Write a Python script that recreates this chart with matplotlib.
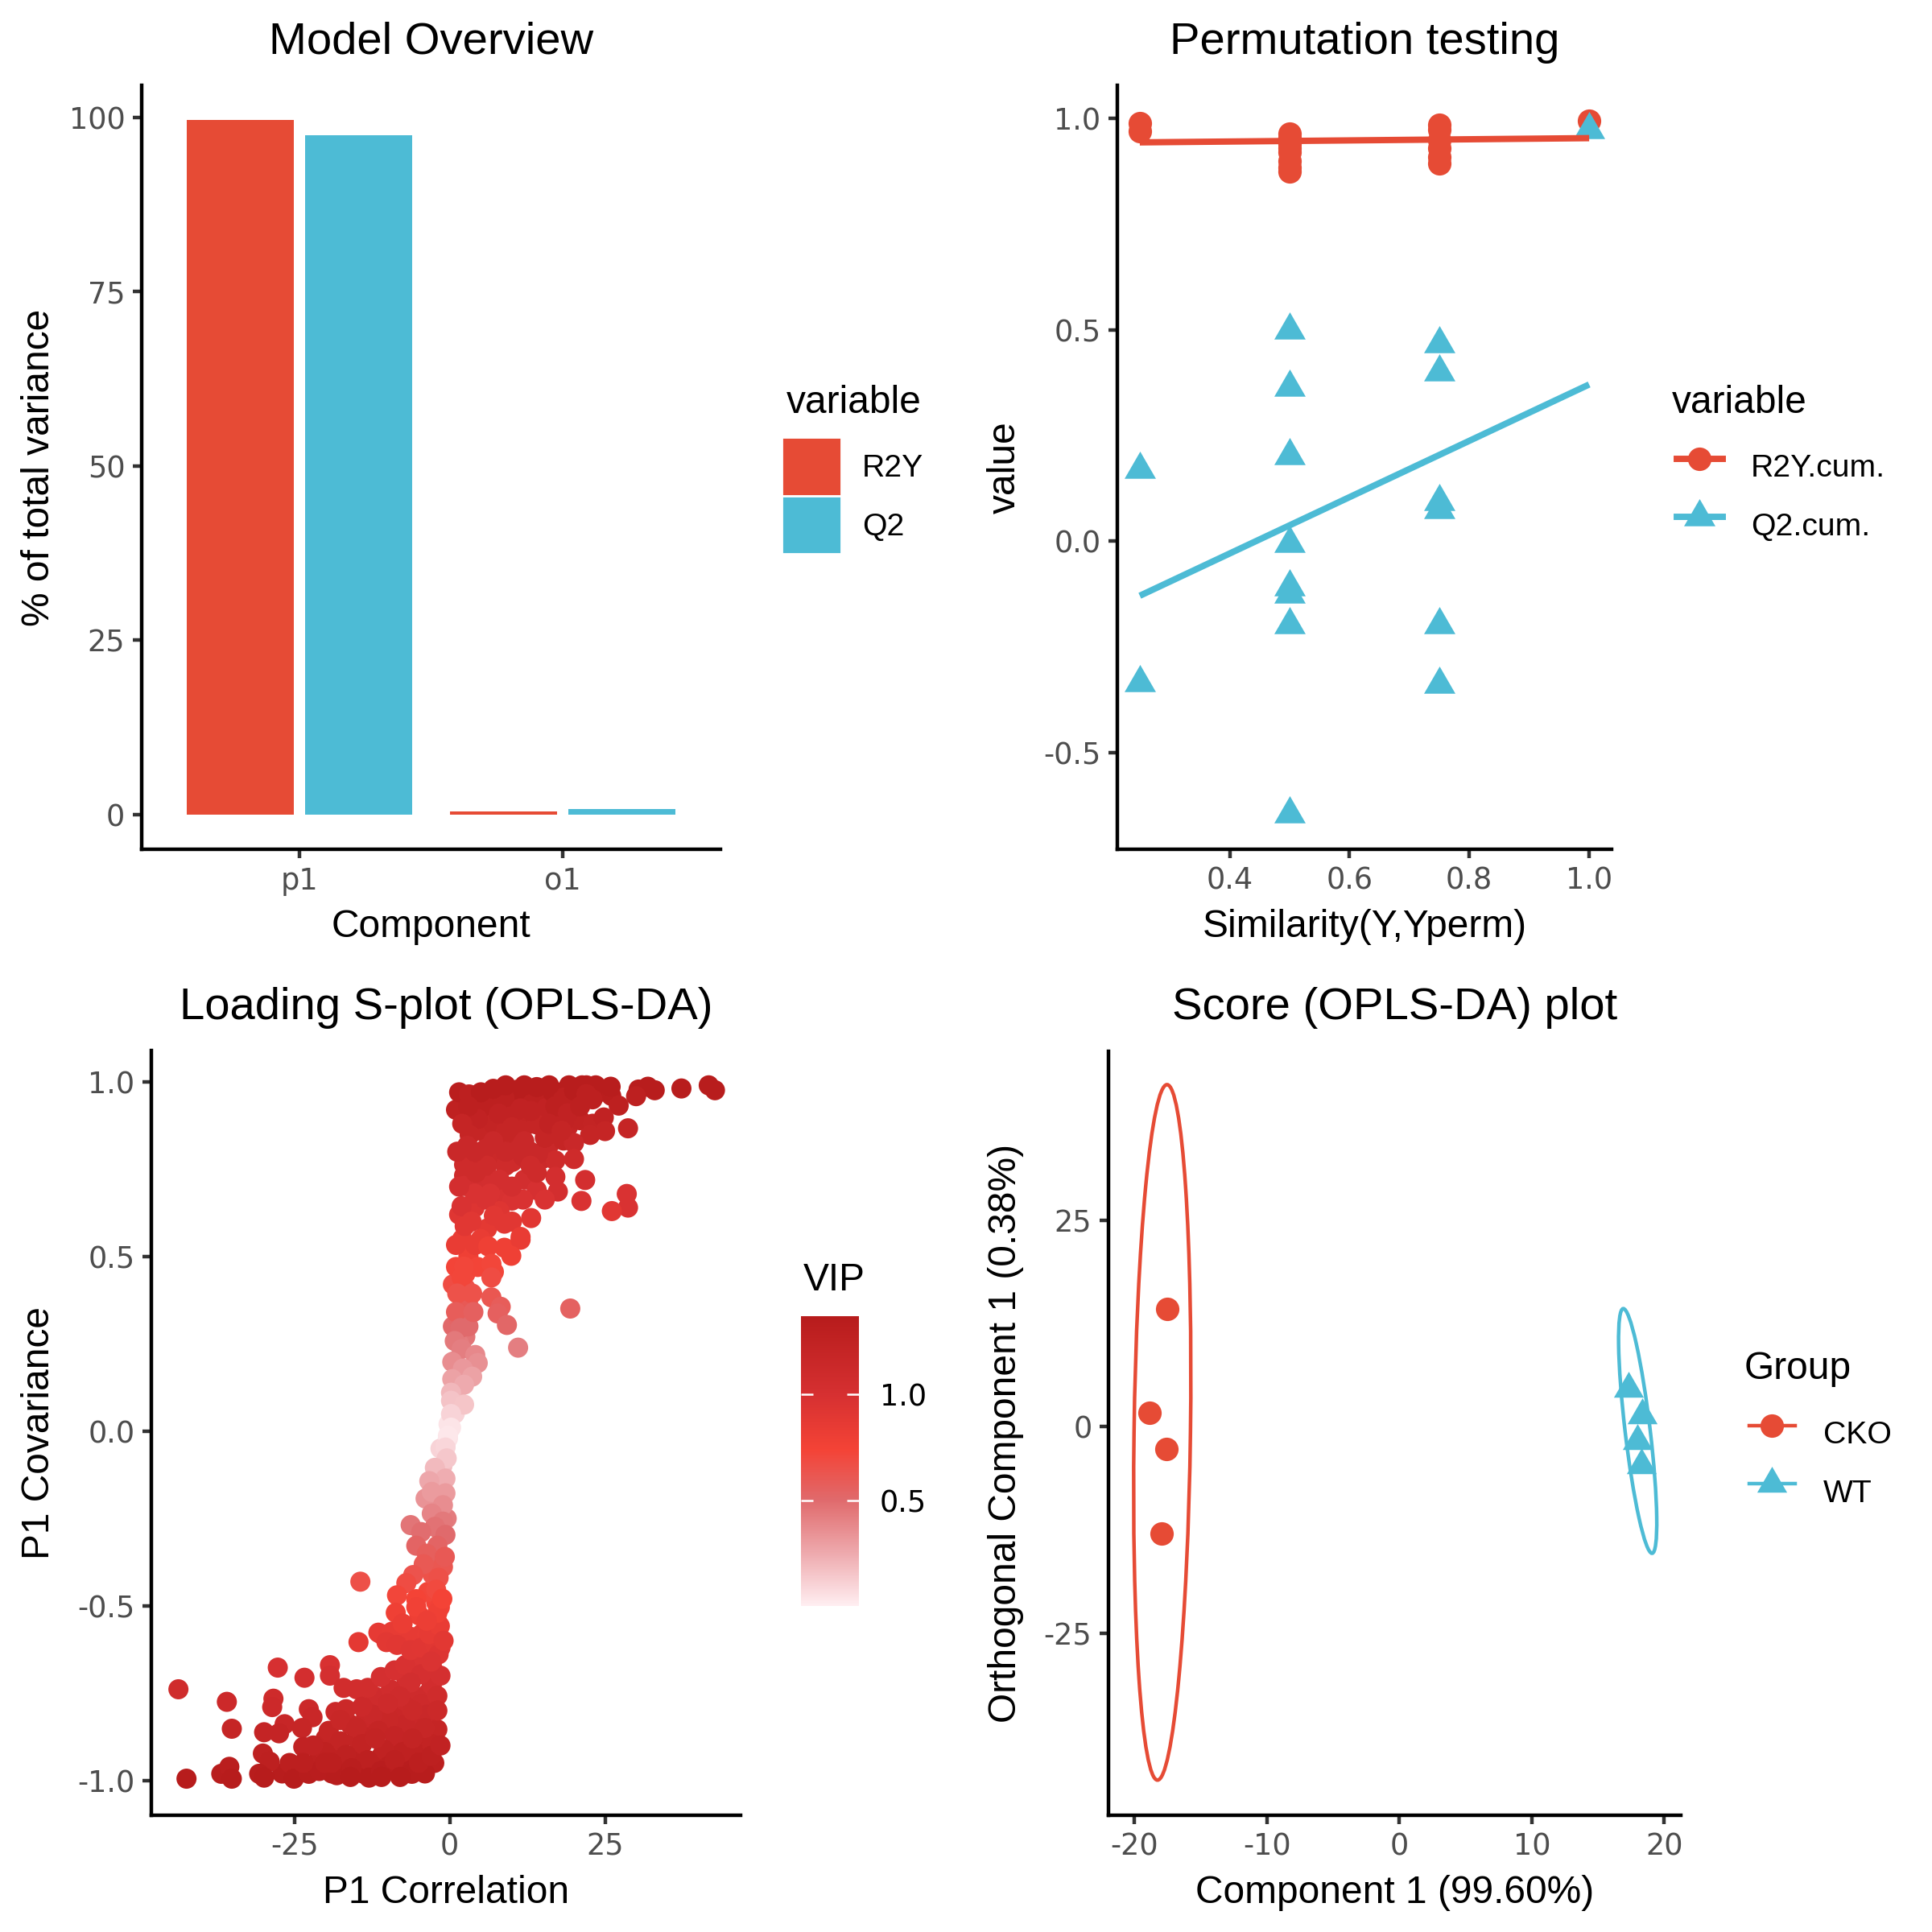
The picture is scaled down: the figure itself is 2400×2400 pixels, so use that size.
import numpy as np
import matplotlib
matplotlib.use("Agg")
import matplotlib.pyplot as plt
from matplotlib.path import Path
from matplotlib.patches import Ellipse, Patch
from matplotlib.lines import Line2D
from matplotlib.colors import LinearSegmentedColormap, Normalize

plt.rcParams['font.family'] = ['Liberation Sans', 'DejaVu Sans']
plt.rcParams['axes.unicode_minus'] = False

RED = "#E64B35"
BLUE = "#4DBBD5"
TICK_GREY = "#4D4D4D"
TICK_FONT = "DejaVu Sans"

# ---- Model overview ----
components = ["p1", "o1"]
r2y_pct = [99.6, 0.4]
q2_pct = [97.4, 0.8]

# ---- Permutation testing ----
perm_sim_r2y = [0.25, 0.25,
                0.5, 0.5, 0.5, 0.5, 0.5, 0.5, 0.5, 0.5,
                0.75, 0.75, 0.75, 0.75, 0.75, 0.75,
                1.0]
perm_r2y = [0.99, 0.97,
            0.965, 0.955, 0.94, 0.93, 0.92, 0.90, 0.885, 0.875,
            0.985, 0.975, 0.95, 0.93, 0.91, 0.895,
            0.996]
perm_sim_q2 = perm_sim_r2y
perm_q2 = [0.17, -0.335,
           0.499, 0.365, 0.203, -0.005, -0.107, -0.125, -0.198, -0.645,
           0.467, 0.40, 0.094, 0.075, -0.198, -0.338,
           0.974]
fit_x = [0.25, 1.0]
r2y_fit = [0.944, 0.954]
q2_fit = [-0.129, 0.371]

# ---- Loading S-plot ----
p1_corr = [
    # upper cluster
    3.1, 4.9, 37.3, 41.7, 42.7, 31.9, 33.0, 30.4, 30.0, 25.9, 27.2, 28.7, 24.8, 25.0, 22.6,
    21.3, 23.5, 19.2, 18.3, 20.0, 17.0, 20.0, 21.8, 21.2, 28.5, 28.7, 26.1, 17.4, 15.3, 17.0,
    14.2, 15.3, 18.3, 15.3, 13.1, 11.0, 8.8, 16.6, 18.3, 11.4, 7.9, 4.5, 3.2, 2.8, 2.3,
    2.3, 2.3, 1.9, 2.4, 1.0, 5.8, 6.7, 5.8, 8.8, 11.4, 10.1, 11.8, 14.0, 11.8, 13.1,
    11.4, 8.8, 7.1, 9.7, 14.0, 13.1, 8.8,
    5, 7, 9, 12, 14, 16, 20, 22, 17, 19, 21, 23, 10, 12, 6, 8, 4, 10, 3, 2, 4, 7, 9, 13,
    16, 18, 3.5, 5, 1.5, 1.2, 6.5, 4.2,
    # middle, upper half
    4.1, 6.2, 11.4, 9.9, 2.3, 6.7, 7.1, 1.9, 6.7, 1.2, 3.6, 6.7, 8.2, 1.0, 3.8, 7.7, 9.2,
    19.4, 1.7, 0.8, 1.9, 4.1, 11.0, 0.4, 4.5, 2.1, 0.4, 3.6, 2.3, 0.2, 0.2, 2.3, 0.2, 0.2,
    -0.3, -0.7,
    # middle, lower half
    -0.3, -0.7, -0.5, -2.4, -0.7, -3.3, -0.7, -3.9, -2.9, -1.1, -2.9, -6.3, -1.1, -2.4,
    -4.6, -0.7, -5.4, -2.0, -3.7, -1.1, -4.2, -5.9, -1.8, -7.0, -14.4, -2.2, -8.5, -5.4,
    -1.6, -8.7, -4.9, -2.0, -11.1, -8.8, -6.3, -3.7, -14.7,
    # lower cluster
    -43.7, -42.4, -35.9, -35.1, -36.8, -35.5, -35.1, -27.7, -28.4, -28.6, -23.4, -19.3,
    -19.3, -11.5, -9.3, -29.9, -30.1, -29.0, -30.7, -29.9, -26.6, -27.5, -22.7, -22.1,
    -23.8, -23.6, -25.8, -25.1, -22.7, -21.0, -19.5, -18.4, -16.7, -17.1, -15.0, -13.2,
    -11.1, -8.9, -7.2, -10.2, -8.5, -6.3, -4.6, -2.4, -1.8, -2.9, -2.9, -4.6, -6.3, -4.6,
    -3.7, -2.0, -4.6, -7.2, -9.8, -12.4, -14.1, -17.6, -15.0, -11.5, -8.9, -5.4, -4.6,
    -7.6, -10.6, -14.1, -17.6, -20.1, -16.7, -13.2, -9.8, -6.1, -13.0, -18.2, -15.8,
    -20.1, -23.6, -11.1, -8.9, -2.9, -2.0, -3.3, -1.6, -2.0, -5.4, -7.6, -3.7,
    -5, -3, -8, -11, -16, -4, -6, -8, -10, -12, -6, -2, -1.5, -3, -1, -19, -22, -1.2,
    -0.8, -1.5,
]
p1_cov = [
    0.964, 0.944, 0.981, 0.990, 0.976, 0.986, 0.976, 0.978, 0.959, 0.986, 0.932, 0.867,
    0.898, 0.859, 0.848, 0.990, 0.990, 0.990, 0.832, 0.825, 0.775, 0.779, 0.719, 0.659,
    0.679, 0.640, 0.630, 0.686, 0.663, 0.728, 0.794, 0.840, 0.886, 0.924, 0.963, 0.978,
    0.955, 0.970, 0.955, 0.924, 0.909, 0.894, 0.848, 0.817, 0.763, 0.732, 0.702, 0.644,
    0.587, 0.533, 0.809, 0.717, 0.663, 0.848, 0.863, 0.771, 0.786, 0.740, 0.663, 0.610,
    0.556, 0.594, 0.617, 0.901, 0.878, 0.917, 0.525,
    0.97, 0.98, 0.99, 0.99, 0.985, 0.99, 0.975, 0.965, 0.93, 0.91, 0.93, 0.95, 0.87, 0.83,
    0.76, 0.72, 0.68, 0.70, 0.93, 0.88, 0.80, 0.83, 0.80, 0.76, 0.88, 0.86, 0.60, 0.55,
    0.70, 0.80, 0.68, 0.74,
    0.533, 0.529, 0.548, 0.502, 0.471, 0.479, 0.456, 0.440, 0.440, 0.394, 0.394, 0.383,
    0.356, 0.341, 0.341, 0.337, 0.304, 0.351, 0.295, 0.258, 0.235, 0.218, 0.239, 0.198,
    0.195, 0.179, 0.149, 0.156, 0.133, 0.110, 0.087, 0.076, 0.049, 0.010, -0.021, -0.044,
    -0.013, -0.047, -0.078, -0.105, -0.136, -0.143, -0.178, -0.193, -0.174, -0.212, -0.236,
    -0.269, -0.259, -0.274, -0.289, -0.297, -0.328, -0.328, -0.351, -0.389, -0.381, -0.412,
    -0.420, -0.435, -0.431, -0.454, -0.470, -0.481, -0.504, -0.520, -0.528, -0.547, -0.581,
    -0.577, -0.589, -0.581, -0.604,
    -0.739, -0.995, -0.775, -0.852, -0.981, -0.961, -0.995, -0.677, -0.766, -0.790, -0.706,
    -0.670, -0.700, -0.577, -0.574, -0.862, -0.923, -0.946, -0.981, -0.992, -0.839, -0.865,
    -0.796, -0.819, -0.850, -0.904, -0.950, -0.995, -0.981, -0.973, -0.858, -0.804, -0.796,
    -0.735, -0.739, -0.735, -0.704, -0.685, -0.670, -0.604, -0.612, -0.627, -0.620, -0.612,
    -0.639, -0.670, -0.727, -0.696, -0.720, -0.781, -0.812, -0.854, -0.865, -0.842, -0.827,
    -0.812, -0.789, -0.827, -0.850, -0.858, -0.873, -0.896, -0.919, -0.919, -0.912, -0.896,
    -0.888, -0.919, -0.927, -0.942, -0.958, -0.981, -0.992, -0.985, -0.965, -0.950, -0.950,
    -0.973, -0.942, -0.896, -0.758, -0.581, -0.558, -0.520, -0.504, -0.551, -0.543,
    -0.95, -0.93, -0.99, -0.99, -0.99, -0.85, -0.80, -0.76, -0.78, -0.88, -0.88, -0.80,
    -0.70, -0.66, -0.60, -0.95, -0.90, -0.48, -0.36, -0.90,
]
vip = [
    1.30, 1.30, 1.35, 1.35, 1.35, 1.35, 1.35, 1.35, 1.30, 1.35, 1.30, 1.20, 1.25, 1.20, 1.20,
    1.35, 1.35, 1.35, 1.20, 1.15, 1.10, 1.10, 1.03, 0.97, 0.97, 0.97, 0.90, 1.03, 0.97, 1.03,
    1.15, 1.20, 1.25, 1.25, 1.30, 1.35, 1.30, 1.35, 1.30, 1.25, 1.25, 1.25, 1.20, 1.15, 1.10,
    1.10, 1.03, 0.97, 0.90, 0.84, 1.15, 1.03, 0.97, 1.20, 1.20, 1.10, 1.15, 1.10, 0.97, 0.90,
    0.84, 0.90, 0.90, 1.25, 1.20, 1.25, 0.78,
    1.35, 1.35, 1.35, 1.35, 1.35, 1.35, 1.35, 1.30, 1.30, 1.25, 1.30, 1.30, 1.20, 1.15, 1.10,
    1.03, 0.97, 1.03, 1.30, 1.20, 1.15, 1.15, 1.15, 1.10, 1.25, 1.20, 0.90, 0.84, 1.03, 1.15,
    0.97, 1.10,
    0.84, 0.78, 0.84, 0.78, 0.72, 0.72, 0.72, 0.72, 0.68, 0.65, 0.65, 0.62, 0.58, 0.58, 0.56,
    0.56, 0.52, 0.55, 0.50, 0.44, 0.42, 0.38, 0.42, 0.36, 0.35, 0.32, 0.28, 0.28, 0.25, 0.20,
    0.16, 0.15, 0.10, 0.04, 0.04, 0.08,
    0.03, 0.09, 0.14, 0.19, 0.24, 0.26, 0.31, 0.34, 0.31, 0.36, 0.40, 0.46, 0.44, 0.47, 0.49,
    0.50, 0.54, 0.54, 0.57, 0.62, 0.61, 0.64, 0.66, 0.68, 0.66, 0.70, 0.72, 0.74, 0.76, 0.78,
    0.79, 0.81, 0.86, 0.85, 0.86, 0.85, 0.88,
    1.08, 1.36, 1.12, 1.20, 1.35, 1.33, 1.36, 1.00, 1.10, 1.12, 1.03, 0.98, 1.02, 0.86, 0.85,
    1.21, 1.28, 1.30, 1.35, 1.36, 1.18, 1.21, 1.13, 1.16, 1.19, 1.25, 1.31, 1.36, 1.35, 1.34,
    1.20, 1.14, 1.13, 1.06, 1.06, 1.06, 1.02, 1.00, 0.98, 0.89, 0.90, 0.92, 0.91, 0.90, 0.94,
    0.98, 1.05, 1.01, 1.04, 1.11, 1.15, 1.20, 1.21, 1.18, 1.17, 1.15, 1.12, 1.17, 1.19, 1.20,
    1.22, 1.24, 1.27, 1.27, 1.26, 1.24, 1.23, 1.27, 1.28, 1.30, 1.32, 1.35, 1.36, 1.35, 1.33,
    1.31, 1.31, 1.34, 1.30, 1.24, 1.08, 0.86, 0.83, 0.78, 0.76, 0.82, 0.81,
    1.31, 1.29, 1.36, 1.36, 1.36, 1.19, 1.13, 1.09, 1.11, 1.23, 1.23, 1.13, 1.02, 0.96, 0.89,
    1.31, 1.25, 0.74, 0.60, 1.25,
]
# densely packed points inside the two clusters and along the S
dense_corr = [
    2.5, 4, 6, 8, 10, 12, 14, 16, 18, 20, 22, 24, 26, 3, 5, 7, 9, 11, 13, 15, 17, 19, 21, 23,
    3, 5, 7, 9, 11, 13, 15, 16, 3.5, 5.5, 8, 10, 12, 14, 2, 3, 4, 6, 8, 10, 2.5, 3, 1.5, 1,
    1.5,
    -2.5, -4, -6, -7, -9.5, -12, -14, -15, -17, -19, -21, -3, -5, -7, -9, -11, -13, -15, -16,
    -18, -20, -3.5, -5.5, -7, -9, -11, -12, -13.5, -2.5, -4, -5.5, -7, -9.5, -1.5, -3, -4.5,
    -6, -2.2, -3.5, -1.5, -2.8, -17, -24.5, -27, -1.8, -1.2, -0.5, -1.5, -2,
    0.5, 1.5, 2.5, 0.8, 1.2, -0.2, -1.5, -1.2, -2, 0.7, 1.5, 3, 0.5, 2.5, 4.5, 1,
]
dense_cov = [
    0.95, 0.92, 0.93, 0.94, 0.95, 0.94, 0.95, 0.94, 0.97, 0.95, 0.99, 0.97, 0.96, 0.90, 0.86,
    0.88, 0.86, 0.90, 0.88, 0.90, 0.85, 0.87, 0.89, 0.88, 0.78, 0.78, 0.79, 0.76, 0.82, 0.80,
    0.78, 0.82, 0.71, 0.72, 0.68, 0.66, 0.72, 0.69, 0.55, 0.50, 0.64, 0.58, 0.63, 0.60, 0.41,
    0.36, 0.62, 0.92, 0.97,
    -0.95, -0.98, -0.94, -0.97, -0.97, -0.96, -0.98, -0.93, -0.96, -0.98, -0.93, -0.88, -0.83,
    -0.90, -0.90, -0.93, -0.87, -0.88, -0.84, -0.91, -0.88, -0.75, -0.76, -0.79, -0.82, -0.80,
    -0.76, -0.82, -0.69, -0.64, -0.66, -0.71, -0.74, -0.62, -0.57, -0.58, -0.60, -0.49, -0.46,
    -0.38, -0.41, -0.97, -0.97, -0.98, -0.28, -0.30, -0.25, -0.15, -0.20,
    0.30, 0.32, 0.27, 0.05, 0.12, 0.02, -0.05, -0.10, -0.12, 0.20, 0.25, 0.30, 0.42, 0.45,
    0.47, 0.47,
]
dense_vip = [
    1.30, 1.25, 1.30, 1.30, 1.30, 1.30, 1.30, 1.30, 1.35, 1.30, 1.35, 1.35, 1.33, 1.25, 1.20,
    1.23, 1.20, 1.25, 1.23, 1.25, 1.20, 1.22, 1.24, 1.23, 1.12, 1.12, 1.13, 1.10, 1.15, 1.14,
    1.12, 1.15, 1.03, 1.04, 0.99, 0.97, 1.04, 1.00, 0.84, 0.78, 0.94, 0.88, 0.93, 0.90, 0.66,
    0.60, 0.92, 1.27, 1.33,
    1.31, 1.35, 1.30, 1.34, 1.34, 1.33, 1.35, 1.29, 1.33, 1.35, 1.29, 1.23, 1.16, 1.25, 1.25,
    1.29, 1.22, 1.23, 1.18, 1.26, 1.23, 1.08, 1.09, 1.12, 1.16, 1.13, 1.09, 1.16, 1.00, 0.94,
    0.96, 1.03, 1.07, 0.91, 0.85, 0.86, 0.88, 0.75, 0.72, 0.61, 0.65, 1.34, 1.34, 1.35, 0.48,
    0.50, 0.43, 0.28, 0.35,
    0.51, 0.53, 0.46, 0.10, 0.22, 0.04, 0.10, 0.18, 0.22, 0.36, 0.43, 0.50, 0.68, 0.71, 0.73,
    0.73,
]
vip_limits = [0.0, 1.37]
vip_ticks = [0.5, 1.0]

# ---- Score plot ----
cko_c1 = [-17.51, -18.85, -17.59, -17.95]
cko_o1 = [14.21, 1.64, -2.74, -12.98]
wt_c1 = [17.33, 18.32, 18.00, 18.28]
wt_o1 = [4.64, 1.38, -1.69, -4.63]
# ellipse: centre x, centre y, width, height, angle (deg)
cko_ellipse = [-17.9, -0.69, 4.26, 84.2, -0.49]
wt_ellipse = [18.0, -0.52, 1.9, 29.7, 4.2]

tri = Path([(0, 1.0), (-0.866, -0.5), (0.866, -0.5), (0, 1.0)],
           [Path.MOVETO, Path.LINETO, Path.LINETO, Path.CLOSEPOLY])

W = 2400.0
TITLE_FS = 13.5
LAB_FS = 11.5
TICK_FS = 8.8
LEG_FS = 9.4


def px_axes(left, top, right, bottom):
    return fig.add_axes([left / W, 1 - bottom / W, (right - left) / W, (bottom - top) / W])


def style(ax):
    for s in ["top", "right"]:
        ax.spines[s].set_visible(False)
    for s in ["left", "bottom"]:
        ax.spines[s].set_linewidth(1.07)
        ax.spines[s].set_color("black")
    ax.tick_params(length=2.75, width=1.07, color="#333333", pad=2.2,
                   labelsize=TICK_FS, labelcolor=TICK_GREY, labelfontfamily=TICK_FONT)


def legend_kw(x, y, hl, tp):
    return dict(loc="upper left", bbox_to_anchor=(x / W, 1 - y / W), frameon=False,
                borderpad=0, borderaxespad=0, fontsize=LEG_FS, handlelength=hl,
                handleheight=2.2, labelspacing=0.18, handletextpad=tp, numpoints=1)


fig = plt.figure(figsize=(8, 8), dpi=300)

# Model overview
ax1 = px_axes(176, 106, 895, 1055)
style(ax1)
pos = np.arange(1, len(components) + 1)
ax1.bar(pos - 0.225, r2y_pct, width=0.405, color=RED)
ax1.bar(pos + 0.225, q2_pct, width=0.405, color=BLUE)
ax1.set_xlim(0.4, 2.6)
ax1.set_ylim(-4.98, 104.58)
ax1.set_xticks(pos)
ax1.set_xticklabels(components)
ax1.set_yticks([0, 25, 50, 75, 100])
ax1.set_title("Model Overview", fontsize=TITLE_FS, pad=9.4)
ax1.set_xlabel("Component", fontsize=LAB_FS, labelpad=4)
ax1.set_ylabel("% of total variance", fontsize=LAB_FS, labelpad=3.5)
fig.text(977 / W, 1 - 513 / W, "variable", fontsize=LAB_FS, va="baseline", ha="left")
fig.legend(handles=[Patch(color=RED, label="R2Y"), Patch(color=BLUE, label="Q2")],
           **legend_kw(975, 547, 1.7, 0.75))

# Permutation testing
ax2 = px_axes(1388, 106, 2002, 1055)
style(ax2)
ax2.plot(perm_sim_r2y, perm_r2y, "o", color=RED, ms=7, mew=0)
ax2.plot(perm_sim_q2, perm_q2, marker=tri, ls="none", color=BLUE, ms=10.8, mew=0)
ax2.plot(fit_x, r2y_fit, color=RED, lw=1.9, solid_capstyle="butt")
ax2.plot(fit_x, q2_fit, color=BLUE, lw=1.9, solid_capstyle="butt")
ax2.set_xlim(0.2125, 1.0375)
ax2.set_ylim(-0.729, 1.079)
ax2.set_xticks([0.4, 0.6, 0.8, 1.0])
ax2.set_yticks([-0.5, 0.0, 0.5, 1.0])
ax2.xaxis.set_major_formatter("{x:.1f}")
ax2.yaxis.set_major_formatter("{x:.1f}")
ax2.set_title("Permutation testing", fontsize=TITLE_FS, pad=9.4)
ax2.set_xlabel("Similarity(Y,Yperm)", fontsize=LAB_FS, labelpad=4)
ax2.set_ylabel("value", fontsize=LAB_FS, labelpad=6)
fig.text(2077 / W, 1 - 513 / W, "variable", fontsize=LAB_FS, va="baseline", ha="left")
fig.legend(handles=[Line2D([], [], color=RED, lw=1.9, marker="o", ms=7, mew=0, label="R2Y.cum."),
                    Line2D([], [], color=BLUE, lw=1.9, marker=tri, ms=10.8, mew=0, label="Q2.cum.")],
           **legend_kw(2083, 547, 1.45, 0.9))

# Loading S-plot
cmap = LinearSegmentedColormap.from_list(
    "vip", [(0.0, "#FFEEF1"), (0.18, "#EEAAAE"), (0.365, "#E06A6C"),
            (0.54, "#F44336"), (0.73, "#D63031"), (1.0, "#B71C1C")])
norm = Normalize(vmin=vip_limits[0], vmax=vip_limits[1])
ax3 = px_axes(188, 1305.5, 920, 2254.5)
style(ax3)
ax3.scatter(dense_corr, dense_cov, c=dense_vip, cmap=cmap, norm=norm, s=36, linewidths=0)
sc = ax3.scatter(p1_corr, p1_cov, c=vip, cmap=cmap, norm=norm, s=36, linewidths=0)
ax3.set_xlim(-48.06, 46.83)
ax3.set_ylim(-1.0986, 1.0885)
ax3.set_xticks([-25, 0, 25])
ax3.set_yticks([-1.0, -0.5, 0.0, 0.5, 1.0])
ax3.yaxis.set_major_formatter("{x:.1f}")
ax3.set_title("Loading S-plot (OPLS-DA)", fontsize=TITLE_FS, pad=9.4)
ax3.set_xlabel("P1 Correlation", fontsize=LAB_FS, labelpad=4)
ax3.set_ylabel("P1 Covariance", fontsize=LAB_FS, labelpad=6)

cax = px_axes(995, 1635, 1067, 1995)
cb = fig.colorbar(sc, cax=cax)
cb.outline.set_visible(False)
cb.set_ticks(vip_ticks)
cb.ax.yaxis.set_major_formatter("{x:.1f}")
cb.ax.minorticks_off()
cb.ax.yaxis.set_ticks_position("both")
cb.ax.tick_params(direction="in", length=3.6, width=0.6, color="white",
                  labelsize=TICK_FS, labelcolor="black", pad=6.2, labelleft=False,
                  labelright=True, labelfontfamily=TICK_FONT)
fig.text(998 / W, 1 - 1603 / W, "VIP", fontsize=LAB_FS, va="baseline", ha="left")

# Score plot
ax4 = px_axes(1377, 1305.5, 2088, 2254.5)
style(ax4)
ax4.plot(cko_c1, cko_o1, "o", color=RED, ms=7, mew=0)
ax4.plot(wt_c1, wt_o1, marker=tri, ls="none", color=BLUE, ms=10.3, mew=0)
for e, col in [(cko_ellipse, RED), (wt_ellipse, BLUE)]:
    ax4.add_patch(Ellipse((e[0], e[1]), e[2], e[3], angle=e[4], fill=False,
                          edgecolor=col, lw=1.07))
ax4.set_xlim(-21.96, 21.26)
ax4.set_ylim(-47.0, 45.49)
ax4.set_xticks([-20, -10, 0, 10, 20])
ax4.set_yticks([-25, 0, 25])
ax4.set_title("Score (OPLS-DA) plot", fontsize=TITLE_FS, pad=9.4)
ax4.set_xlabel("Component 1 (99.60%)", fontsize=LAB_FS, labelpad=4)
ax4.set_ylabel("Orthogonal Component 1 (0.38%)", fontsize=LAB_FS, labelpad=6)
fig.text(2167 / W, 1 - 1713 / W, "Group", fontsize=LAB_FS, va="baseline", ha="left")
fig.legend(handles=[Line2D([], [], color=RED, lw=1.07, marker="o", ms=7, mew=0, label="CKO"),
                    Line2D([], [], color=BLUE, lw=1.07, marker=tri, ms=10.3, mew=0, label="WT")],
           **legend_kw(2173, 1748, 1.45, 0.9))

fig.savefig("out.png", dpi=300)
